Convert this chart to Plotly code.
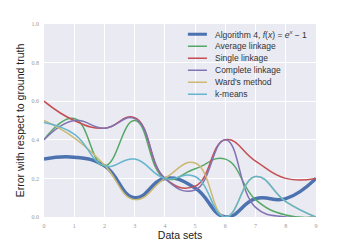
import plotly.graph_objects as go

datasets = [0, 1, 2, 3, 4, 5, 6, 7, 8, 9]
algo4 = [0.30, 0.31, 0.265, 0.10, 0.20, 0.15, 0.0, 0.095, 0.095, 0.20]
average = [0.40, 0.51, 0.265, 0.50, 0.20, 0.25, 0.30, 0.09, 0.01, 0.0]
single = [0.60, 0.50, 0.46, 0.515, 0.20, 0.16, 0.40, 0.29, 0.20, 0.20]
complete = [0.40, 0.50, 0.46, 0.51, 0.20, 0.14, 0.40, 0.05, 0.0, 0.0]
ward = [0.50, 0.41, 0.27, 0.09, 0.20, 0.28, 0.0, 0.21, 0.08, 0.0]
kmeans = [0.49, 0.43, 0.265, 0.30, 0.20, 0.21, 0.0, 0.21, 0.08, 0.0]

names = ["Algorithm 4, <i>f</i>(<i>x</i>) = <i>e</i><sup><i>x</i></sup> − 1",
         "Average linkage", "Single linkage", "Complete linkage",
         "Ward's method", "k-means"]
series = [algo4, average, single, complete, ward, kmeans]
colors = ["#4C72B0", "#55A868", "#C44E52", "#8172B2", "#CCB974", "#64B5CD"]
widths = [3.5, 1.5, 1.5, 1.5, 1.5, 1.5]

fig = go.Figure()
for name, ys, c, w in zip(names, series, colors, widths):
    fig.add_trace(go.Scatter(x=datasets, y=ys, mode="lines", name=name,
                             line=dict(color=c, width=w, shape="spline", smoothing=1.3),
                             showlegend=False))

# manual legend (compact spacing)
x0, x1, xt = 0.529, 0.599, 0.621
ytop, dy = 0.947, 0.0622
shapes = []
annotations = []
for i, (name, c, w) in enumerate(zip(names, colors, widths)):
    yy = ytop - i * dy
    shapes.append(dict(type="line", xref="paper", yref="paper", x0=x0, x1=x1, y0=yy, y1=yy,
                       line=dict(color=c, width=3 if i == 0 else 1.5)))
    annotations.append(dict(xref="paper", yref="paper", x=xt, y=yy, text=name, showarrow=False,
                            xanchor="left", yanchor="middle",
                            font=dict(family="Liberation Sans", size=8.5, color="#333333")))

tickfont = dict(family="Liberation Serif", size=6, color="#999999")
fig.update_layout(
    width=352, height=242,
    margin=dict(l=44, r=36, t=24, b=25),
    paper_bgcolor="white", plot_bgcolor="#EAEAF2",
    shapes=shapes, annotations=annotations,
    xaxis=dict(range=[0, 9], tickvals=datasets, ticktext=[str(d) for d in datasets],
               automargin=False,
               showgrid=True, gridcolor="white", gridwidth=1, zeroline=False,
               showline=False, ticks="", tickfont=tickfont, ticklabelstandoff=4,
               title=dict(text="Data sets", standoff=1,
                          font=dict(family="Liberation Sans", size=10.5, color="#222222"))),
    yaxis=dict(range=[0, 1], tickvals=[0, 0.2, 0.4, 0.6, 0.8, 1.0],
               ticktext=["0.0", "0.2", "0.4", "0.6", "0.8", "1.0"],
               automargin=False,
               showgrid=True, gridcolor="white", gridwidth=1, zeroline=False,
               showline=False, ticks="", tickfont=tickfont, ticklabelstandoff=4,
               title=dict(text="Error with respect to ground truth", standoff=4,
                          font=dict(family="Liberation Sans", size=10.5, color="#222222"))),
)
fig.write_html("out.html", config={"displayModeBar": False},
               post_script="document.body.style.margin='0';")
